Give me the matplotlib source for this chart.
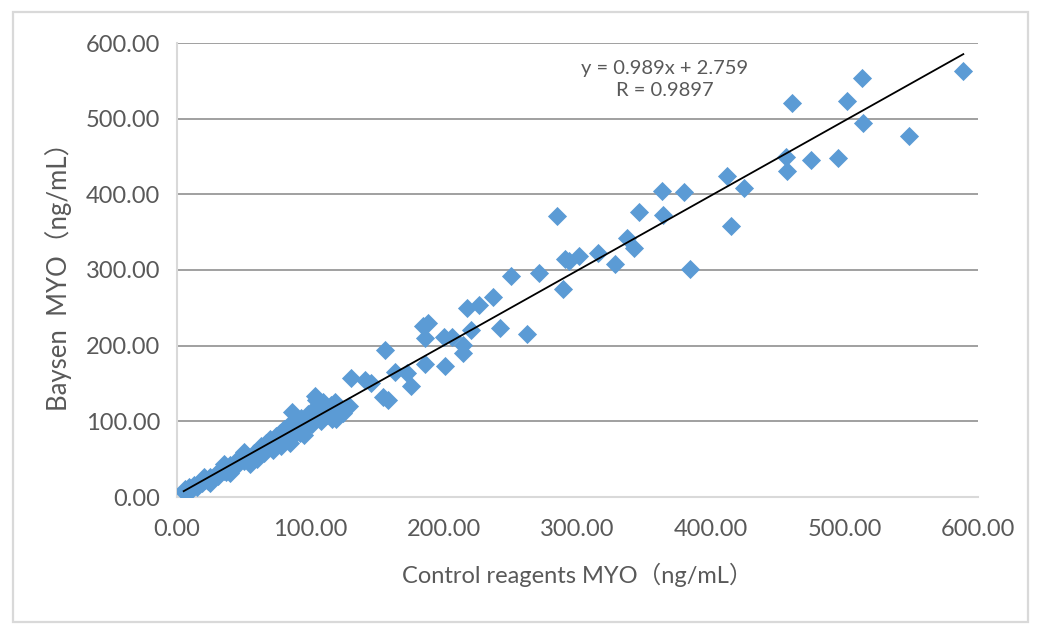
import matplotlib
matplotlib.use("Agg")
import matplotlib.pyplot as plt
from matplotlib.patches import Rectangle

# ---- data ----
control_x = [
    5, 6, 8, 9, 11, 13, 15, 17, 19, 21, 23, 25, 27, 29, 31, 33, 35, 37, 40, 42,
    44, 46, 48, 50, 52, 54, 56, 58, 60, 62, 63, 65, 67, 68, 70, 72, 74, 75, 77, 79,
    80, 82, 83, 84, 86, 88, 89, 90, 92, 93, 95, 96, 98, 100, 101, 103, 104, 106, 108, 110,
    112, 114, 116, 118, 120, 86, 103, 109, 115, 112, 119, 124, 129, 130, 141, 145, 154, 158, 163, 172,
    175, 156, 186, 201, 184, 188, 186, 200, 206, 214, 214, 220, 242, 262, 217, 226, 237, 250, 271, 289,
    291, 294, 301, 315, 328, 285, 337, 342, 384, 346, 364, 415, 363, 380, 412, 425, 456, 475, 495, 457,
    461, 502, 513, 514, 548, 589,
    20, 25, 35, 40, 50, 55, 60, 65, 72, 78, 85, 95,
]
baysen_y = [
    7, 10, 8, 13, 11, 16, 13, 19, 18, 23, 21, 27, 25, 31, 28, 36, 34, 33, 42, 40,
    47, 44, 50, 47, 55, 52, 50, 58, 57, 62, 68, 64, 72, 66, 76, 72, 80, 70, 85, 78,
    90, 83, 76, 95, 88, 82, 100, 93, 85, 105, 98, 90, 110, 104, 96, 118, 128, 112, 100, 122,
    108, 116, 103, 125, 113, 112, 134, 126, 121, 111, 103, 111, 120, 157, 155, 151, 132, 128, 165, 164,
    147, 194, 176, 173, 226, 230, 210, 211, 211, 201, 190, 221, 223, 215, 250, 254, 264, 292, 296, 275,
    314, 312, 318, 322, 308, 371, 342, 329, 301, 377, 373, 358, 404, 403, 424, 408, 449, 445, 448, 431,
    521, 523, 554, 494, 477, 563,
    26, 18, 44, 32, 60, 44, 50, 58, 62, 68, 72, 82,
]
slope = 0.989
intercept = 2.759
equation_text = "y = 0.989x + 2.759\nR = 0.9897"
x_ticks = [0, 100, 200, 300, 400, 500, 600]
y_ticks = [0, 100, 200, 300, 400, 500, 600]
x_label = "Control reagents MYO（ng/mL）"
y_label = "Baysen  MYO（ng/mL）"

# ---- style ----
FONT = ["Lato", "Noto Sans CJK SC", "DejaVu Sans"]
plt.rcParams["font.family"] = FONT
TXT = "#595959"
BLUE = "#5B9BD5"

fig = plt.figure(figsize=(10.45, 6.37), dpi=100)
# outer chart border
fig.patches.append(Rectangle((13 / 1045, 1 - 622 / 637), (1028 - 13) / 1045, (622 - 12) / 637,
                             transform=fig.transFigure, fill=False, edgecolor="#d9d9d9",
                             linewidth=1.6, zorder=0))

ax = fig.add_axes([177 / 1045, 1 - 497 / 637, (978 - 177) / 1045, (497 - 43) / 637])
ax.set_xlim(0, 600)
ax.set_ylim(0, 600)
ax.set_xticks(x_ticks)
ax.set_yticks(y_ticks)
ax.set_xticklabels([f"{v:.2f}" for v in x_ticks])
ax.set_yticklabels([f"{v:.2f}" for v in y_ticks])
ax.tick_params(length=0, labelsize=17, colors=TXT)
ax.tick_params(axis="x", pad=16)
ax.tick_params(axis="y", pad=12)

for side in ["top", "right"]:
    ax.spines[side].set_visible(False)
for side in ["left", "bottom"]:
    ax.spines[side].set_color("#d9d9d9")
    ax.spines[side].set_linewidth(1.5)

for v in y_ticks[1:]:
    ax.axhline(v, color="#989898", linewidth=1.3, zorder=1)

ax.scatter(control_x, baysen_y, marker="D", s=95, color=BLUE, linewidths=0, zorder=3)

x0, x1 = min(control_x), max(control_x)
ax.plot([x0, x1], [slope * x0 + intercept, slope * x1 + intercept], color="black",
        linewidth=1.3, zorder=4)

ax.text(0.609, 0.919, equation_text, transform=ax.transAxes, ha="center", va="center",
        fontsize=14.5, color=TXT, linespacing=1.35)

ax.set_xlabel(x_label, fontsize=17, color=TXT, labelpad=16)
ax.set_ylabel(y_label, fontsize=18.5, color=TXT, labelpad=10)

fig.savefig("out.png", dpi=100)
